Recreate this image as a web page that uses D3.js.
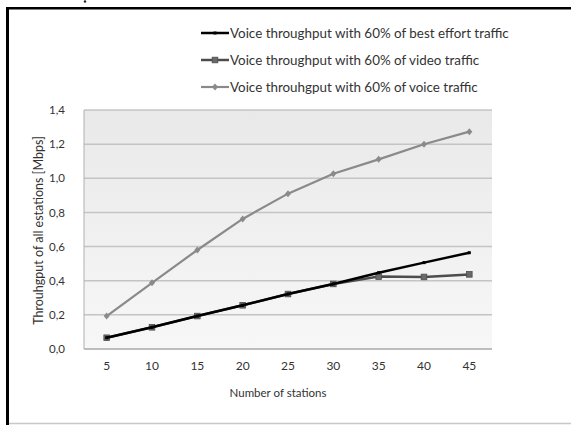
<!DOCTYPE html>
<html>
<head>
<meta charset="utf-8">
<script src="https://cdn.jsdelivr.net/npm/d3@7"></script>
<style>
  body { margin: 0; background: #fff; }
  text { font-family: Lato, "Open Sans", sans-serif; fill: #333; }
</style>
</head>
<body>
<div id="chart"></div>
<script>
var stations = ["5", "10", "15", "20", "25", "30", "35", "40", "45"];
var bestEffort = [0.066, 0.127, 0.193, 0.256, 0.322, 0.381, 0.447, 0.506, 0.564];
var video = [0.066, 0.127, 0.193, 0.256, 0.322, 0.381, 0.424, 0.422, 0.437];
var voice = [0.193, 0.388, 0.58, 0.762, 0.91, 1.027, 1.111, 1.199, 1.273];
var yTicks = [0, 0.2, 0.4, 0.6, 0.8, 1.0, 1.2, 1.4];
var seriesNames = [
    "Voice throughput with 60% of best effort traffic",
    "Voice throughput with 60% of video traffic",
    "Voice throuhgput with 60% of voice traffic"
];

var width = 571, height = 425;
var plot = {left: 84, right: 492, top: 110, bottom: 349};

var svg = d3.select("#chart").append("svg")
    .attr("width", width)
    .attr("height", height);

// frame of the scanned figure
svg.append("rect").attr("x", 6).attr("y", 7).attr("width", 3).attr("height", height - 7).attr("fill", "#000");
svg.append("rect").attr("x", 6).attr("y", 7).attr("width", width - 6).attr("height", 2.5).attr("fill", "#000");
svg.append("line").attr("x1", 9).attr("x2", width).attr("y1", 423.5).attr("y2", 423.5)
    .attr("stroke", "#c8c8c8").attr("stroke-width", 1.5);
svg.append("circle").attr("cx", 85).attr("cy", 1.5).attr("r", 1.2).attr("fill", "#222");

var x = d3.scaleBand().domain(stations).range([plot.left, plot.right]);
var y = d3.scaleLinear().domain([0, 1.4]).range([plot.bottom, plot.top]);
var cx = function (d) { return x(d) + x.bandwidth() / 2; };

var defs = svg.append("defs");
var grad = defs.append("linearGradient").attr("id", "bg")
    .attr("x1", 0).attr("y1", 0).attr("x2", 0).attr("y2", 1);
grad.append("stop").attr("offset", "0%").attr("stop-color", "#e9e9e9");
grad.append("stop").attr("offset", "100%").attr("stop-color", "#f7f7f7");

svg.append("rect")
    .attr("x", plot.left).attr("y", plot.top)
    .attr("width", plot.right - plot.left).attr("height", plot.bottom - plot.top)
    .attr("fill", "url(#bg)");

// grid lines
svg.append("g").selectAll("line")
    .data(yTicks)
    .enter()
    .append("line")
    .attr("x1", plot.left).attr("x2", plot.right)
    .attr("y1", function (d) { return y(d); })
    .attr("y2", function (d) { return y(d); })
    .attr("stroke", function (d) { return d === 0 ? "#a8a8a8" : "#c4c4c4"; })
    .attr("stroke-width", 1.5);

svg.append("line")
    .attr("x1", plot.left).attr("x2", plot.left)
    .attr("y1", plot.top).attr("y2", plot.bottom)
    .attr("stroke", "#b0b0b0").attr("stroke-width", 1);

// y axis
var yAxis = d3.axisLeft(y)
    .tickValues(yTicks)
    .tickSize(0)
    .tickPadding(19)
    .tickFormat(function (d) { return d3.format(".1f")(d).replace(".", ","); });
var gy = svg.append("g").attr("transform", "translate(" + plot.left + ",0)").call(yAxis);
gy.select(".domain").remove();
gy.selectAll("text").style("font-size", "11.5px").style("font-family", "Lato, sans-serif").attr("fill", "#333");

// x axis
var xAxis = d3.axisBottom(x).tickSize(0).tickPadding(12);
var gx = svg.append("g").attr("transform", "translate(0," + plot.bottom + ")").call(xAxis);
gx.select(".domain").remove();
gx.selectAll("text").style("font-size", "12px").style("font-family", "Lato, sans-serif").attr("fill", "#333");

svg.append("text")
    .attr("x", 278).attr("y", 397)
    .attr("text-anchor", "middle")
    .style("font-size", "11.5px")
    .text("Number of stations");

svg.append("text")
    .attr("transform", "translate(43," + ((plot.top + plot.bottom) / 2 + 1) + ") rotate(-90)")
    .attr("text-anchor", "middle")
    .style("font-size", "12.5px")
    .text("Throuhgput of all estations  [Mbps]");

var series = [
    {name: seriesNames[0], values: bestEffort, color: "#000", width: 2.5, marker: "dash"},
    {name: seriesNames[1], values: video, color: "#4d4d4d", width: 2.5, marker: "square"},
    {name: seriesNames[2], values: voice, color: "#8a8a8a", width: 2.2, marker: "diamond"}
];

var line = d3.line()
    .x(function (d, i) { return cx(stations[i]); })
    .y(function (d) { return y(d); });

function drawMarker(g, type, color) {
    if (type === "square") {
        g.append("rect").attr("x", -2.8).attr("y", -2.8).attr("width", 5.6).attr("height", 5.6)
            .attr("fill", "#6a6a6a").attr("stroke", color).attr("stroke-width", 0.8);
    } else if (type === "diamond") {
        g.append("path").attr("d", "M0,-3.5L3,0L0,3.5L-3,0Z").attr("fill", color);
    } else {
        g.append("rect").attr("x", -1.5).attr("y", -1.5).attr("width", 3).attr("height", 3).attr("fill", color);
    }
}

// draw back to front: voice, video, best effort
series.slice().reverse().forEach(function (s) {
    svg.append("path")
        .datum(s.values)
        .attr("d", line)
        .attr("fill", "none")
        .attr("stroke", s.color)
        .attr("stroke-width", s.width);
    s.values.forEach(function (v, i) {
        var g = svg.append("g").attr("transform", "translate(" + cx(stations[i]) + "," + y(v) + ")");
        drawMarker(g, s.marker, s.color);
    });
});

// legend
var legendY = [33, 60, 87];
series.forEach(function (s, i) {
    var g = svg.append("g").attr("transform", "translate(201," + legendY[i] + ")");
    g.append("line").attr("x1", 0).attr("x2", 28).attr("y1", 0).attr("y2", 0)
        .attr("stroke", s.color).attr("stroke-width", s.width);
    drawMarker(g.append("g").attr("transform", "translate(14,0)"), s.marker, s.color);
    g.append("text")
        .attr("x", 29).attr("y", 0).attr("dy", "0.35em")
        .style("font-size", "13.4px")
        .attr("fill", "#222")
        .text(s.name);
});
</script>
</body>
</html>
